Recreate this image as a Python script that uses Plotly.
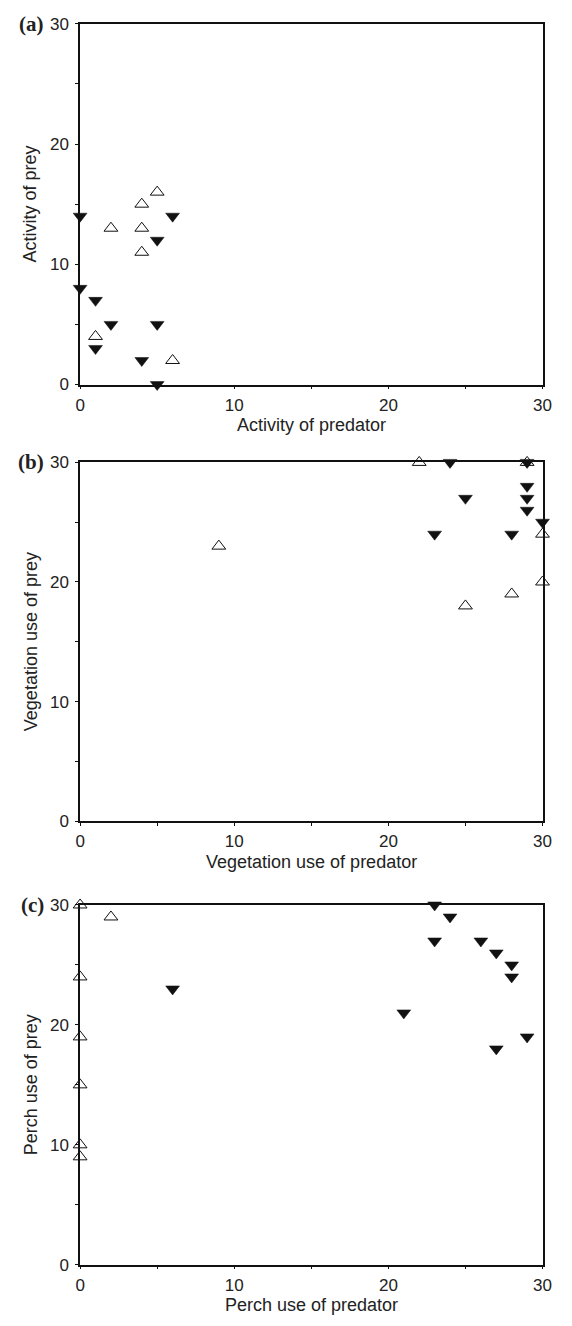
import plotly.graph_objects as go

# Panel (a): activity
a_open_x = [1, 2, 4, 4, 4, 5, 6]
a_open_y = [4, 13, 15, 13, 11, 16, 2]
a_fill_x = [0, 0, 1, 1, 2, 4, 5, 5, 5, 6]
a_fill_y = [14, 8, 7, 3, 5, 2, 5, 12, 0, 14]

# Panel (b): vegetation use
b_open_x = [9, 22, 25, 28, 29, 30, 30]
b_open_y = [23, 30, 18, 19, 30, 24, 20]
b_fill_x = [24, 25, 23, 28, 29, 29, 29, 29, 30]
b_fill_y = [30, 27, 24, 24, 30, 28, 27, 26, 25]

# Panel (c): perch use
c_open_x = [0, 2, 0, 0, 0, 0, 0]
c_open_y = [30, 29, 24, 19, 15, 10, 9]
c_fill_x = [6, 23, 24, 23, 26, 27, 28, 28, 21, 29, 27]
c_fill_y = [23, 30, 29, 27, 27, 26, 25, 24, 21, 19, 18]

tick_vals = [0, 5, 10, 15, 20, 25, 30]
tick_text = ["0", "", "10", "", "20", "", "30"]

x_titles = ["Activity of predator", "Vegetation use of predator", "Perch use of predator"]
y_titles = ["Activity of prey", "Vegetation use of prey", "Perch use of prey"]
panel_labels = ["(a)", "(b)", "(c)"]

W, H = 572, 1326
x_left, x_right = 77, 551
# (top px, bottom px) of each plot area
panel_px = [(15, 381), (460, 824), (909, 1274)]

panels = [
    (a_open_x, a_open_y, a_fill_x, a_fill_y),
    (b_open_x, b_open_y, b_fill_x, b_fill_y),
    (c_open_x, c_open_y, c_fill_x, c_fill_y),
]

FONT = "Liberation Sans"
TXT = "#222222"

fig = go.Figure()
layout = dict(
    width=W, height=H,
    margin=dict(l=0, r=0, t=0, b=0),
    paper_bgcolor="white", plot_bgcolor="white",
    showlegend=False,
    font=dict(family=FONT, size=17, color=TXT),
)
annotations = []

for i, (ox, oy, fx, fy) in enumerate(panels):
    n = "" if i == 0 else str(i + 1)
    xa, ya = "x" + n, "y" + n
    fig.add_trace(go.Scatter(
        x=ox, y=oy, xaxis=xa, yaxis=ya, mode="markers", cliponaxis=False,
        marker=dict(symbol="triangle-up", size=12, color="white",
                    line=dict(color="#111111", width=1)),
    ))
    fig.add_trace(go.Scatter(
        x=fx, y=fy, xaxis=xa, yaxis=ya, mode="markers", cliponaxis=False,
        marker=dict(symbol="triangle-down", size=12, color="#111111",
                    line=dict(color="#111111", width=0.5)),
    ))
    top, bot = panel_px[i]
    ydom = [1 - bot / H, 1 - top / H]
    common = dict(
        range=[0, 30], tickmode="array", tickvals=tick_vals, ticktext=tick_text,
        ticks="outside", ticklen=3, tickwidth=1, tickcolor="#111111",
        showline=True, linecolor="#111111", linewidth=1.5, mirror=True,
        showgrid=False, zeroline=False, fixedrange=True,
        tickfont=dict(family=FONT, size=17, color=TXT),
    )
    layout["xaxis" + n] = dict(common, domain=[x_left / W, x_right / W], anchor=ya,
                               ticklabelstandoff=1)
    layout["yaxis" + n] = dict(common, domain=ydom, anchor=xa, ticklabelstandoff=3)

    # axis titles
    annotations.append(dict(
        text=x_titles[i], xref="paper", yref="paper",
        x=(x_left + x_right) / 2 / W, y=1 - (bot + 41) / H,
        xanchor="center", yanchor="middle", showarrow=False,
        font=dict(family=FONT, size=18, color=TXT)))
    annotations.append(dict(
        text=y_titles[i], xref="paper", yref="paper",
        x=26 / W, y=1 - (top + bot) / 2 / H, textangle=-90,
        xanchor="center", yanchor="middle", showarrow=False,
        font=dict(family=FONT, size=18, color=TXT)))
    annotations.append(dict(
        text="<b>" + panel_labels[i] + "</b>", xref="paper", yref="paper",
        x=42 / W, y=1 - top / H, xanchor="right", yanchor="middle", showarrow=False,
        font=dict(family="Liberation Serif", size=21, color=TXT)))

layout["annotations"] = annotations
fig.update_layout(**layout)
fig.write_html("out.html", config={"displayModeBar": False},
               post_script="document.body.style.margin='0';")
